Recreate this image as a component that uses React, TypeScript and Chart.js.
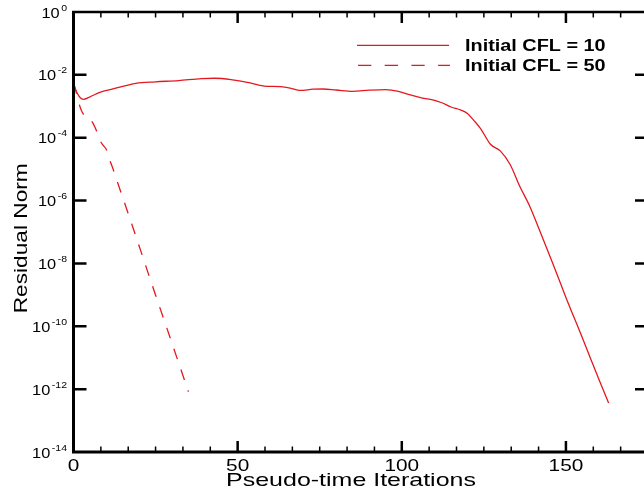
import React, { useEffect, useRef } from "react";
import { Chart, registerables } from "chart.js";
Chart.register(...registerables);

// Initial CFL = 10 (solid)
const iterCFL10 = [0, 1, 2, 3, 5, 8, 12, 19, 25, 32, 39, 43, 48, 53, 58, 63, 66, 69, 73, 76, 80, 85, 90, 95, 99, 102, 106, 110, 112, 115, 118, 120, 122, 124, 127, 130, 133, 136, 139, 142, 146, 150, 155, 160, 163];
const residCFL10 = [5.4e-3, 2.8e-3, 1.9e-3, 1.66e-3, 2.0e-3, 2.75e-3, 3.55e-3, 5.4e-3, 6.0e-3, 6.6e-3, 7.6e-3, 7.8e-3, 7.1e-3, 5.75e-3, 4.4e-3, 4.2e-3, 3.8e-3, 3.2e-3, 3.5e-3, 3.55e-3, 3.3e-3, 3.0e-3, 3.25e-3, 3.4e-3, 3.0e-3, 2.4e-3, 1.86e-3, 1.55e-3, 1.32e-3, 9.5e-4, 7.6e-4, 5.9e-4, 3.5e-4, 1.95e-4, 6.2e-5, 3.8e-5, 1.4e-5, 2.75e-6, 6.5e-7, 1.12e-7, 1.0e-8, 8.3e-10, 4.3e-11, 2.1e-12, 3.6e-13];

// Initial CFL = 50 (dashed)
const iterCFL50 = [0, 1, 2, 3, 4, 5, 6, 7, 8, 9, 10, 11, 12, 13, 18, 24, 30, 35];
const residCFL50 = [5.4e-3, 2.4e-3, 9.5e-4, 5.6e-4, 4.7e-4, 4.0e-4, 2.8e-4, 1.66e-4, 8.5e-5, 5.8e-5, 4.2e-5, 2.0e-5, 1.05e-5, 5.1e-6, 1.5e-7, 2.0e-9, 2.9e-11, 8.3e-13];

const seriesLabels = ["Initial CFL = 10", "Initial CFL = 50"];
const xTickValues = [0, 50, 100, 150];
const xTickLabels = ["0", "50", "100", "150"];
const yTickValues = [1, 1e-2, 1e-4, 1e-6, 1e-8, 1e-10, 1e-12, 1e-14];
const yTickExponents = ["0", "-2", "-4", "-6", "-8", "-10", "-12", "-14"];
const xTitle = "Pseudo-time Iterations";
const yTitle = "Residual Norm";

const RED = "#e4191f";
const FONT = "'Liberation Sans', Arial, sans-serif";

function drawText(ctx: CanvasRenderingContext2D, text: string, x: number, y: number, font: string, align: string, sx: number) {
  ctx.save();
  ctx.font = font;
  const w = ctx.measureText(text).width * sx;
  let left = x;
  if (align === "center") left = x - w / 2;
  else if (align === "right") left = x - w;
  ctx.translate(left, y);
  ctx.scale(sx, 1);
  ctx.textAlign = "left";
  ctx.textBaseline = "alphabetic";
  ctx.fillStyle = "#000";
  ctx.fillText(text, 0, 0);
  ctx.restore();
}

const framePlugin = {
  id: "frame",
  afterDraw(chart: any) {
    const ctx: CanvasRenderingContext2D = chart.ctx;
    const xs = chart.scales.x;
    const ys = chart.scales.y;
    const { left, right, top, bottom } = chart.chartArea;
    ctx.save();
    ctx.strokeStyle = "#000";
    ctx.lineCap = "butt";

    // frame
    ctx.lineWidth = 2.5;
    ctx.beginPath();
    ctx.moveTo(left - 1.5, top);
    ctx.lineTo(right, top);
    ctx.lineTo(right, bottom);
    ctx.stroke();
    ctx.lineWidth = 3;
    ctx.beginPath();
    ctx.moveTo(left, top - 1);
    ctx.lineTo(left, bottom + 1.5);
    ctx.moveTo(left - 1.5, bottom);
    ctx.lineTo(right, bottom);
    ctx.stroke();

    // y ticks (left & right, inward)
    ctx.lineWidth = 2.5;
    yTickValues.forEach((v) => {
      const py = ys.getPixelForValue(v);
      if (py <= top + 1 || py >= bottom - 1) return;
      ctx.beginPath();
      ctx.moveTo(left, py);
      ctx.lineTo(left + 13, py);
      ctx.moveTo(right, py);
      ctx.lineTo(right - 13, py);
      ctx.stroke();
    });

    // x minor ticks
    ctx.lineWidth = 1.5;
    const minorStep = 50 / 6;
    for (let i = 1; i * minorStep < xs.max; i++) {
      if (i % 6 === 0) continue;
      const px = xs.getPixelForValue(i * minorStep);
      ctx.beginPath();
      ctx.moveTo(px, bottom);
      ctx.lineTo(px, bottom - 5.5);
      ctx.moveTo(px, top);
      ctx.lineTo(px, top + 5.5);
      ctx.stroke();
    }
    // x major ticks
    ctx.lineWidth = 2.5;
    xTickValues.forEach((v) => {
      if (v === 0) return;
      const px = xs.getPixelForValue(v);
      ctx.beginPath();
      ctx.moveTo(px, bottom);
      ctx.lineTo(px, bottom - 11);
      ctx.moveTo(px, top);
      ctx.lineTo(px, top + 11);
      ctx.stroke();
    });
    ctx.restore();

    // x tick labels
    xTickValues.forEach((v, i) => {
      const px = xs.getPixelForValue(v);
      drawText(ctx, xTickLabels[i], px, 471, `16px ${FONT}`, "center", 1.3);
    });

    // y tick labels: 10 with superscript exponent
    const baseFont = `14px ${FONT}`;
    const expFont = `9px ${FONT}`;
    yTickValues.forEach((v, i) => {
      const py = ys.getPixelForValue(v);
      ctx.save();
      ctx.font = baseFont;
      const bw = ctx.measureText("10").width * 1.17;
      ctx.font = expFont;
      const ew = ctx.measureText(yTickExponents[i]).width * 1.17;
      ctx.restore();
      const rightEdge = 67;
      const ex = rightEdge - ew;
      const bx = ex - 1.5 - bw;
      drawText(ctx, "10", bx, py + 5.5, baseFont, "left", 1.17);
      drawText(ctx, yTickExponents[i], ex, py - 1.5, expFont, "left", 1.17);
    });

    // axis titles
    drawText(ctx, xTitle, 351, 485.5, `18.5px ${FONT}`, "center", 1.35);
    ctx.save();
    ctx.translate(26.5, 238.3);
    ctx.rotate(-Math.PI / 2);
    drawText(ctx, yTitle, 0, 0, `18px ${FONT}`, "center", 1.26);
    ctx.restore();

    // legend
    ctx.save();
    ctx.strokeStyle = RED;
    ctx.lineWidth = 1.3;
    ctx.beginPath();
    ctx.moveTo(357, 45.3);
    ctx.lineTo(449, 45.3);
    ctx.stroke();
    ctx.setLineDash([13.3, 13.4]);
    ctx.beginPath();
    ctx.moveTo(358, 65.3);
    ctx.lineTo(450, 65.3);
    ctx.stroke();
    ctx.restore();
    drawText(ctx, seriesLabels[0], 465, 50.5, `bold 16px ${FONT}`, "left", 1.24);
    drawText(ctx, seriesLabels[1], 465, 70.5, `bold 16px ${FONT}`, "left", 1.24);
  },
};

export default function App() {
  const ref = useRef<HTMLCanvasElement | null>(null);
  useEffect(() => {
    if (!ref.current) return;
    const chart = new Chart(ref.current, {
      type: "line",
      data: {
        datasets: [
          {
            label: seriesLabels[0],
            data: iterCFL10.map((x, i) => ({ x, y: residCFL10[i] })),
            borderColor: RED,
            borderWidth: 1.3,
            pointRadius: 0,
            cubicInterpolationMode: "monotone",
            fill: false,
          },
          {
            label: seriesLabels[1],
            data: iterCFL50.map((x, i) => ({ x, y: residCFL50[i] })),
            borderColor: RED,
            borderWidth: 1.3,
            borderDash: [11, 11],
            pointRadius: 0,
            cubicInterpolationMode: "monotone",
            fill: false,
          },
        ],
      },
      options: {
        responsive: false,
        animation: false,
        devicePixelRatio: 1,
        layout: { padding: { left: 73.5, right: 12, top: 12, bottom: 38 } },
        scales: {
          x: { type: "linear", display: false, min: 0, max: 175 },
          y: { type: "logarithmic", display: false, min: 1e-14, max: 1 },
        },
        plugins: { legend: { display: false }, tooltip: { enabled: false } },
      },
      plugins: [framePlugin],
    } as any);
    return () => chart.destroy();
  }, []);
  return (
    <div style={{ position: "absolute", left: 0, top: 0, width: 644, height: 490, overflow: "hidden", background: "#fff" }}>
      <canvas ref={ref} width={660} height={490} style={{ width: 660, height: 490, display: "block" }} />
    </div>
  );
}
